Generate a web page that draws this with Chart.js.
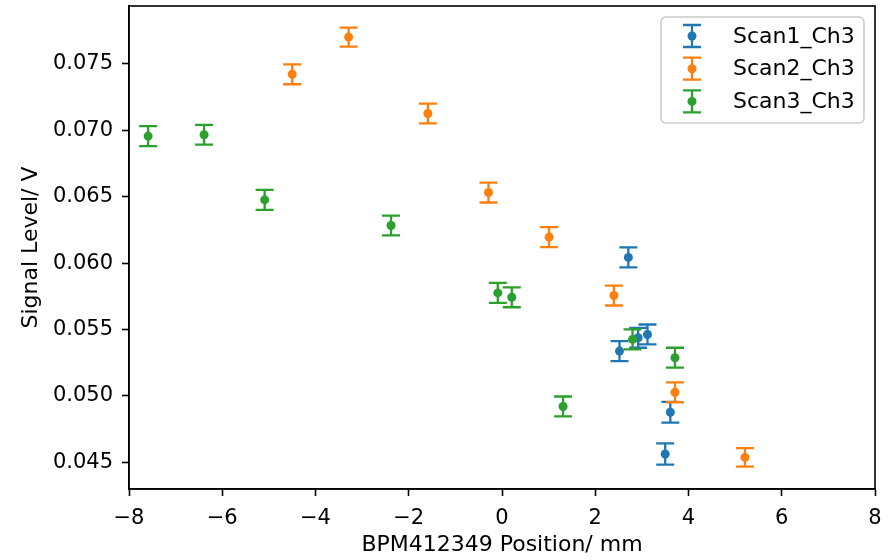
<!DOCTYPE html>
<html>
<head>
<meta charset="utf-8">
<script src="https://cdn.jsdelivr.net/npm/chart.js@4/dist/chart.umd.min.js"></script>
<style>
  html, body { margin: 0; padding: 0; background: #fff; }
  #chart { display: block; }
</style>
</head>
<body>
<canvas id="chart" width="889" height="560"></canvas>
<script>
// values
const seriesNames = ['Scan1_Ch3', 'Scan2_Ch3', 'Scan3_Ch3']
const seriesColors = ['#1f77b4', '#ff7f0e', '#2ca02c']

const scan1X = [2.71, 2.52, 2.92, 3.12, 3.61, 3.50]
const scan1Y = [0.06043, 0.05338, 0.05438, 0.05463, 0.04878, 0.04563]
const scan1Err = [0.00075, 0.00075, 0.00075, 0.00075, 0.00078, 0.0008]

const scan2X = [-4.50, -3.29, -1.59, -0.29, 1.01, 2.40, 3.71, 5.21]
const scan2Y = [0.07421, 0.07701, 0.07126, 0.06531, 0.06196, 0.05756, 0.05028, 0.04538]
const scan2Err = [0.00075, 0.00072, 0.00075, 0.00075, 0.00075, 0.00075, 0.00075, 0.0007]

const scan3X = [-7.59, -6.39, -5.09, -2.38, -0.09, 0.21, 1.31, 2.80, 3.71]
const scan3Y = [0.06956, 0.06966, 0.06476, 0.06283, 0.05776, 0.05743, 0.04921, 0.05426, 0.05288]
const scan3Err = [0.00075, 0.00075, 0.00075, 0.00075, 0.00075, 0.00075, 0.00075, 0.00075, 0.00075]

const xRange = [-8, 8]
const xStep = 2
const yRange = [0.0430, 0.07935]
const yStep = 0.005

const xLabel = 'BPM412349 Position/ mm'
const yLabel = 'Signal Level/ V'

const FONT = 'DejaVu Sans'
const TICK_SIZE = 21
const LABEL_SIZE = 22
const CAP = 9

Chart.defaults.font.family = FONT
Chart.defaults.font.size = TICK_SIZE
Chart.defaults.color = '#000'

let points = (xs, ys) => xs.map((x, i) => ({ x: x, y: ys[i] }))

let makeSet = (i, xs, ys, errs) => {
  return {
    label: seriesNames[i],
    data: points(xs, ys),
    errors: errs,
    backgroundColor: seriesColors[i],
    borderColor: seriesColors[i],
    pointRadius: 4.5,
    pointHoverRadius: 4.5,
    pointBorderWidth: 0,
    showLine: false,
    order: 3 - i
  }
}

// vertical error bars with caps, under each series' markers
const errorBars = {
  id: 'errorBars',
  beforeDatasetDraw (chart, args) {
    let ds = chart.data.datasets[args.index]
    if (!ds.errors) {
      return
    }
    let ctx = chart.ctx
    let xs = chart.scales.x
    let ys = chart.scales.y
    ctx.save()
    ctx.strokeStyle = ds.borderColor
    ctx.lineWidth = 2.3
    ds.data.forEach((p, i) => {
      let px = xs.getPixelForValue(p.x)
      let top = ys.getPixelForValue(p.y + ds.errors[i])
      let bot = ys.getPixelForValue(p.y - ds.errors[i])
      ctx.beginPath()
      ctx.moveTo(px, top)
      ctx.lineTo(px, bot)
      ctx.moveTo(px - CAP, top)
      ctx.lineTo(px + CAP, top)
      ctx.moveTo(px - CAP, bot)
      ctx.lineTo(px + CAP, bot)
      ctx.stroke()
    })
    ctx.restore()
  }
}

// top/right spines plus a matplotlib style legend in the upper right
const frameAndLegend = {
  id: 'frameAndLegend',
  afterDraw (chart) {
    let ctx = chart.ctx
    let a = chart.chartArea
    ctx.save()
    ctx.strokeStyle = '#000'
    ctx.lineWidth = 1.6
    ctx.strokeRect(a.left, a.top, a.right - a.left, a.bottom - a.top)

    let boxW = 203
    let boxH = 106
    let bx = a.right - 11 - boxW
    let by = a.top + 11
    ctx.beginPath()
    ctx.roundRect(bx, by, boxW, boxH, 5)
    ctx.fillStyle = 'rgba(255,255,255,0.8)'
    ctx.fill()
    ctx.strokeStyle = '#cccccc'
    ctx.lineWidth = 1.5
    ctx.stroke()

    ctx.font = LABEL_SIZE + 'px "' + FONT + '"'
    ctx.textBaseline = 'middle'
    ctx.textAlign = 'left'
    seriesNames.forEach((name, i) => {
      let cy = by + 19 + i * 32.7
      let cx = bx + 31
      ctx.strokeStyle = seriesColors[i]
      ctx.fillStyle = seriesColors[i]
      ctx.lineWidth = 2.3
      ctx.beginPath()
      ctx.moveTo(cx, cy - 11)
      ctx.lineTo(cx, cy + 11)
      ctx.moveTo(cx - CAP, cy - 11)
      ctx.lineTo(cx + CAP, cy - 11)
      ctx.moveTo(cx - CAP, cy + 11)
      ctx.lineTo(cx + CAP, cy + 11)
      ctx.stroke()
      ctx.beginPath()
      ctx.arc(cx, cy, 4.5, 0, Math.PI * 2)
      ctx.fill()
      ctx.fillStyle = '#000'
      ctx.fillText(name, bx + 72, cy + 1)
    })
    ctx.restore()
  }
}

let minus = v => String(v).replace('-', '\u2212')

new Chart(document.getElementById('chart'), {
  type: 'scatter',
  data: {
    datasets: [
      makeSet(0, scan1X, scan1Y, scan1Err),
      makeSet(1, scan2X, scan2Y, scan2Err),
      makeSet(2, scan3X, scan3Y, scan3Err)
    ]
  },
  options: {
    responsive: false,
    animation: false,
    devicePixelRatio: 1,
    layout: {
      padding: { top: 6, right: 14, bottom: 0, left: 0 }
    },
    plugins: {
      legend: { display: false },
      tooltip: { enabled: false }
    },
    scales: {
      x: {
        type: 'linear',
        min: xRange[0],
        max: xRange[1],
        afterFit (scale) {
          scale.height = 71
          scale.paddingLeft = 0
          scale.paddingRight = 0
        },
        border: { display: true, color: '#000', width: 1.6 },
        grid: {
          drawOnChartArea: false,
          drawTicks: true,
          tickLength: 7,
          tickWidth: 1.6,
          tickColor: '#000'
        },
        ticks: {
          stepSize: xStep,
          autoSkip: false,
          maxRotation: 0,
          padding: 10,
          color: '#000',
          callback: v => minus(v)
        },
        title: {
          display: true,
          text: xLabel,
          color: '#000',
          font: { size: LABEL_SIZE },
          padding: { top: 0, bottom: 2 }
        }
      },
      y: {
        type: 'linear',
        min: yRange[0],
        max: yRange[1],
        afterFit (scale) {
          scale.width = 129
          scale.paddingTop = 0
          scale.paddingBottom = 0
        },
        border: { display: true, color: '#000', width: 1.6 },
        grid: {
          drawOnChartArea: false,
          drawTicks: true,
          tickLength: 7,
          tickWidth: 1.6,
          tickColor: '#000'
        },
        ticks: {
          stepSize: yStep,
          includeBounds: false,
          autoSkip: false,
          padding: 9,
          color: '#000',
          callback: v => v.toFixed(3)
        },
        title: {
          display: true,
          text: yLabel,
          color: '#000',
          font: { size: LABEL_SIZE },
          padding: { top: 18, bottom: 0 }
        }
      }
    }
  },
  plugins: [errorBars, frameAndLegend]
})
</script>
</body>
</html>
